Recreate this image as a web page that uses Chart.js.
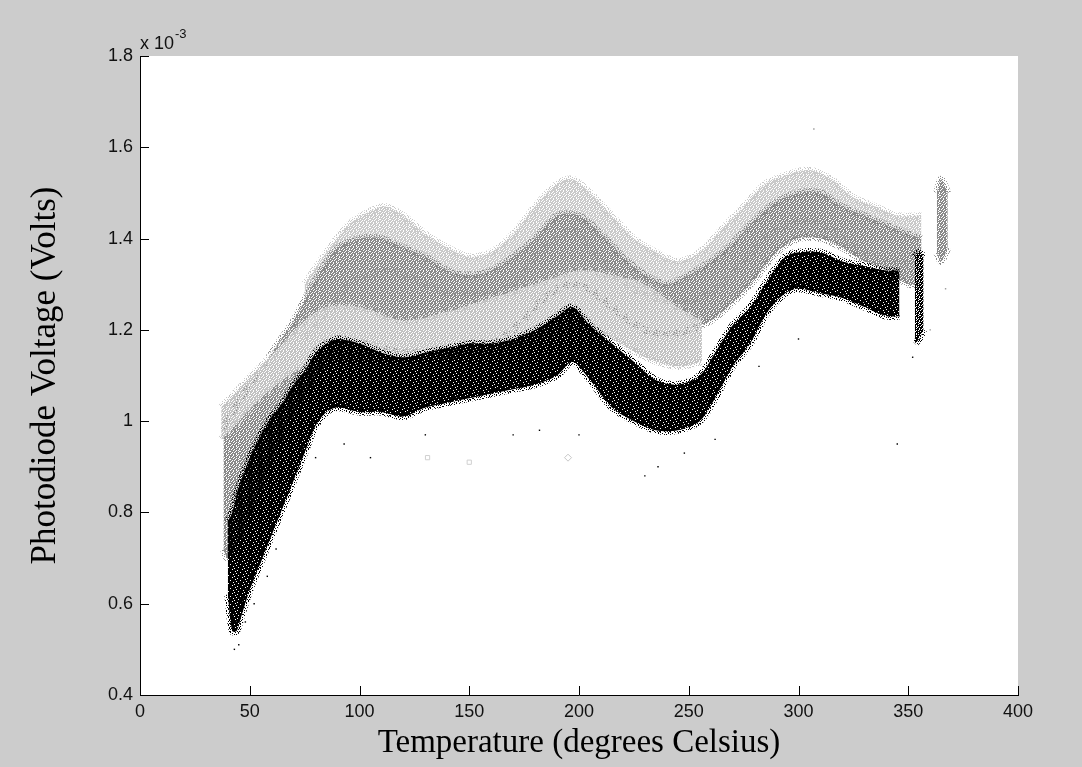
<!DOCTYPE html>
<html>
<head>
<meta charset="utf-8">
<script src="https://cdn.jsdelivr.net/npm/chart.js@4"></script>
<style>
  html, body { margin: 0; padding: 0; background: #cccccc; }
  canvas { display: block; }
</style>
</head>
<body>
<canvas id="chart" width="1082" height="767"></canvas>
<script>
// values: temperature in deg C, voltage in units of 1e-3 V
// each run is drawn as a band between its upper and lower edge

// black run
const blackT  = [40, 42, 44, 46, 50, 55, 60, 65, 70, 75, 80, 85, 90, 100, 110, 120, 130, 140, 150, 160, 170, 180, 190, 197, 205, 215, 225, 235, 245, 255, 262, 270, 278, 286, 294, 300, 310, 320, 330, 340, 346];
const blackHi = [0.78, 0.80, 0.84, 0.87, 0.92, 0.97, 1.01, 1.04, 1.08, 1.11, 1.15, 1.17, 1.18, 1.17, 1.15, 1.14, 1.15, 1.16, 1.17, 1.17, 1.18, 1.20, 1.23, 1.25, 1.21, 1.17, 1.13, 1.09, 1.08, 1.10, 1.15, 1.21, 1.25, 1.31, 1.36, 1.37, 1.37, 1.35, 1.34, 1.33, 1.33];
const blackLo = [0.62, 0.54, 0.54, 0.57, 0.63, 0.69, 0.75, 0.81, 0.87, 0.93, 0.99, 1.02, 1.03, 1.02, 1.02, 1.01, 1.03, 1.04, 1.05, 1.06, 1.07, 1.08, 1.10, 1.13, 1.09, 1.03, 1.00, 0.98, 0.98, 1.00, 1.05, 1.12, 1.17, 1.24, 1.28, 1.29, 1.28, 1.27, 1.25, 1.23, 1.23];
const blackTailT  = [353, 355, 357];
const blackTailHi = [1.36, 1.37, 1.36];
const blackTailLo = [1.17, 1.18, 1.20];

// dark grey run
const darkT  = [38, 40, 45, 50, 55, 60, 70, 80, 90, 100, 110, 120, 130, 140, 150, 160, 170, 180, 190, 200, 210, 220, 230, 240, 250, 260, 270, 280, 290, 300, 310, 320, 330, 340, 350, 356];
const darkHi = [0.98, 1.00, 1.04, 1.08, 1.11, 1.15, 1.22, 1.31, 1.38, 1.40, 1.40, 1.38, 1.36, 1.33, 1.32, 1.33, 1.36, 1.40, 1.45, 1.45, 1.41, 1.36, 1.32, 1.30, 1.32, 1.35, 1.39, 1.44, 1.48, 1.50, 1.50, 1.47, 1.45, 1.43, 1.41, 1.40];
const darkLo = [0.72, 0.70, 0.74, 0.80, 0.86, 0.92, 1.02, 1.10, 1.16, 1.17, 1.16, 1.15, 1.15, 1.14, 1.15, 1.17, 1.20, 1.25, 1.29, 1.30, 1.27, 1.23, 1.20, 1.19, 1.20, 1.22, 1.26, 1.31, 1.37, 1.40, 1.40, 1.38, 1.35, 1.33, 1.30, 1.30];
const darkTailT  = [363, 365, 368];
const darkTailHi = [1.50, 1.53, 1.50];
const darkTailLo = [1.37, 1.35, 1.38];

// light grey run, lower branch
const lightLoT  = [37, 45, 55, 65, 75, 85, 100, 120, 140, 160, 180, 200, 215, 230, 245, 256];
const lightLoHi = [1.03, 1.07, 1.12, 1.17, 1.22, 1.25, 1.25, 1.22, 1.24, 1.27, 1.30, 1.33, 1.32, 1.30, 1.25, 1.22];
const lightLoLo = [0.96, 1.00, 1.05, 1.09, 1.12, 1.13, 1.13, 1.13, 1.15, 1.15, 1.18, 1.20, 1.18, 1.14, 1.12, 1.13];

// light grey run, upper branch
const lightHiT  = [75, 85, 95, 105, 112, 120, 130, 140, 150, 160, 170, 180, 190, 197, 205, 215, 225, 235, 245, 255, 265, 275, 285, 295, 305, 315, 325, 335, 345, 356];
const lightHiHi = [1.30, 1.37, 1.43, 1.46, 1.47, 1.45, 1.41, 1.38, 1.36, 1.37, 1.41, 1.47, 1.52, 1.53, 1.50, 1.45, 1.40, 1.37, 1.35, 1.37, 1.42, 1.47, 1.52, 1.54, 1.55, 1.53, 1.49, 1.47, 1.45, 1.45];
const lightHiLo = [1.18, 1.24, 1.30, 1.32, 1.33, 1.32, 1.30, 1.28, 1.28, 1.28, 1.30, 1.36, 1.40, 1.42, 1.38, 1.33, 1.29, 1.27, 1.26, 1.27, 1.30, 1.35, 1.40, 1.43, 1.44, 1.42, 1.38, 1.36, 1.35, 1.34];

// stray points
const strayBlackT = [43, 45, 48, 52, 58, 62, 80, 93, 105, 130, 170, 182, 200, 230, 236, 248, 262, 282, 300, 345, 352];
const strayBlackV = [0.50, 0.51, 0.56, 0.60, 0.66, 0.72, 0.92, 0.95, 0.92, 0.97, 0.97, 0.98, 0.97, 0.88, 0.90, 0.93, 0.96, 1.12, 1.18, 0.95, 1.14];
const strayGreyT = [307, 360, 367];
const strayGreyV = [1.64, 1.20, 1.29];
const markerSquareT = [131, 150];
const markerSquareV = [0.92, 0.91];
const markerDiamondT = [195];
const markerDiamondV = [0.92];

const xTicks = [0, 50, 100, 150, 200, 250, 300, 350, 400];
const yTicks = [0.4, 0.6, 0.8, 1.0, 1.2, 1.4, 1.6, 1.8];

const pts = (t, v) => t.map((x, i) => ({ x: x, y: v[i] }));

const canvas = document.getElementById('chart');
const ctx = canvas.getContext('2d');

// speckle tiles so the bands read like dense dots
const denseTile = [
  '##.###.##.',
  '#.##.####.',
  '###.##.#.#',
  '.####.###.',
  '##.#.###.#',
  '#.####.###',
  '.##.##.#.#',
  '###.###.##'
];
const solidTile = [
  '####.#####',
  '##.#######',
  '#######.##',
  '#####.####',
  '.#########',
  '######.###',
  '###.######',
  '########.#'
];
const sparseTile = [
  '#....#..#.',
  '..#.....#.',
  '#...#.#...',
  '..#...#..#',
  '.#..#....#',
  '#.....#.#.',
  '..##......',
  '#...#..#.#'
];

function makePattern(color, rows) {
  const c = document.createElement('canvas');
  c.width = rows[0].length;
  c.height = rows.length;
  const g = c.getContext('2d');
  g.fillStyle = color;
  rows.forEach((r, y) => {
    for (let x = 0; x < r.length; x++) {
      if (r[x] === '#') g.fillRect(x, y, 1, 1);
    }
  });
  return ctx.createPattern(c, 'repeat');
}

const datasets = [];
function addBand(t, hi, lo, color, order, tile) {
  const dense = makePattern(color, tile || denseTile);
  const sparse = makePattern(color, sparseTile);
  datasets.push({
    data: pts(t, hi), borderColor: sparse, borderWidth: 7,
    pointRadius: 0, fill: false, tension: 0.3, order: order
  });
  datasets.push({
    data: pts(t, lo), borderColor: sparse, borderWidth: 7,
    pointRadius: 0, fill: '-1', backgroundColor: dense, tension: 0.3, order: order
  });
}

addBand(lightHiT, lightHiHi, lightHiLo, '#c9c9c9', 5);
addBand(darkT, darkHi, darkLo, '#8a8a8a', 4);
addBand(darkTailT, darkTailHi, darkTailLo, '#8a8a8a', 4);
addBand(lightLoT, lightLoHi, lightLoLo, '#c2c2c2', 3);
addBand(blackT, blackHi, blackLo, '#000000', 2, solidTile);
addBand(blackTailT, blackTailHi, blackTailLo, '#000000', 2);

datasets.push({
  data: pts(strayBlackT, strayBlackV), showLine: false, pointRadius: 1,
  pointStyle: 'rect', pointBackgroundColor: '#000', pointBorderWidth: 0, order: 1
});
datasets.push({
  data: pts(strayGreyT, strayGreyV), showLine: false, pointRadius: 1,
  pointStyle: 'rect', pointBackgroundColor: '#999', pointBorderWidth: 0, order: 1
});
datasets.push({
  data: pts(markerSquareT, markerSquareV), showLine: false, pointRadius: 3,
  pointStyle: 'rect', pointBackgroundColor: 'rgba(0,0,0,0)', pointBorderColor: '#d0d0d0',
  pointBorderWidth: 1, order: 1
});
datasets.push({
  data: pts(markerDiamondT, markerDiamondV), showLine: false, pointRadius: 3.5,
  pointStyle: 'rectRot', pointBackgroundColor: 'rgba(0,0,0,0)', pointBorderColor: '#c8c8c8',
  pointBorderWidth: 1, order: 1
});

const tickFont = { family: "'Liberation Sans', Arial, sans-serif", size: 18 };

const backdrop = {
  id: 'backdrop',
  beforeDraw(chart) {
    const c = chart.ctx, a = chart.chartArea;
    c.save();
    c.fillStyle = '#cccccc';
    c.fillRect(0, 0, chart.width, chart.height);
    c.fillStyle = '#ffffff';
    c.fillRect(a.left, a.top, a.right - a.left, a.bottom - a.top);
    c.restore();
  }
};

const decorations = {
  id: 'decorations',
  afterDraw(chart) {
    const c = chart.ctx, a = chart.chartArea;
    const xs = chart.scales.x, ys = chart.scales.y;
    c.save();
    // inward tick marks
    c.strokeStyle = '#000';
    c.lineWidth = 1;
    c.beginPath();
    xTicks.slice(1).forEach(v => {
      const px = Math.round(xs.getPixelForValue(v)) + 0.5;
      c.moveTo(px, a.bottom);
      c.lineTo(px, a.bottom - 9);
    });
    yTicks.slice(1).forEach(v => {
      const py = Math.round(ys.getPixelForValue(v)) + 0.5;
      c.moveTo(a.left, py);
      c.lineTo(a.left + 9, py);
    });
    c.stroke();

    // exponent label
    c.fillStyle = '#111';
    c.textBaseline = 'alphabetic';
    c.textAlign = 'left';
    c.font = "18px 'Liberation Sans', Arial, sans-serif";
    c.fillText('x 10', a.left, a.top - 7);
    const w = c.measureText('x 10').width;
    c.font = "13px 'Liberation Sans', Arial, sans-serif";
    c.fillText('-3', a.left + w + 1, a.top - 18);

    // axis titles
    c.fillStyle = '#000';
    c.textAlign = 'center';
    c.textBaseline = 'middle';
    c.font = "33px 'Liberation Serif', 'Times New Roman', serif";
    c.fillText('Temperature (degrees Celsius)', (a.left + a.right) / 2, 743);
    c.font = "35px 'Liberation Serif', 'Times New Roman', serif";
    c.translate(46, (a.top + a.bottom) / 2);
    c.rotate(-Math.PI / 2);
    c.fillText('Photodiode Voltage (Volts)', 0, 0);
    c.restore();
  }
};

new Chart(ctx, {
  type: 'line',
  data: { datasets: datasets },
  options: {
    responsive: false,
    animation: false,
    devicePixelRatio: 1,
    layout: { padding: { left: 0, right: 64, top: 56, bottom: 0 } },
    plugins: { legend: { display: false }, tooltip: { enabled: false } },
    scales: {
      x: {
        type: 'linear',
        min: 0, max: 400,
        afterFit(s) { s.height = 72; },
        afterBuildTicks(s) { s.ticks = xTicks.map(v => ({ value: v })); },
        ticks: { font: tickFont, color: '#111', padding: 6, maxRotation: 0, autoSkip: false },
        grid: { display: true, drawOnChartArea: false, drawTicks: false },
        border: { display: true, color: '#000', width: 1 }
      },
      y: {
        type: 'linear',
        min: 0.4, max: 1.8,
        afterFit(s) { s.width = 140; },
        afterBuildTicks(s) { s.ticks = yTicks.map(v => ({ value: v })); },
        ticks: {
          font: tickFont, color: '#111', padding: 7, autoSkip: false,
          callback: v => String(Number(v.toFixed(1)))
        },
        grid: { display: true, drawOnChartArea: false, drawTicks: false },
        border: { display: true, color: '#000', width: 1 }
      }
    }
  },
  plugins: [backdrop, decorations]
});
</script>
</body>
</html>
